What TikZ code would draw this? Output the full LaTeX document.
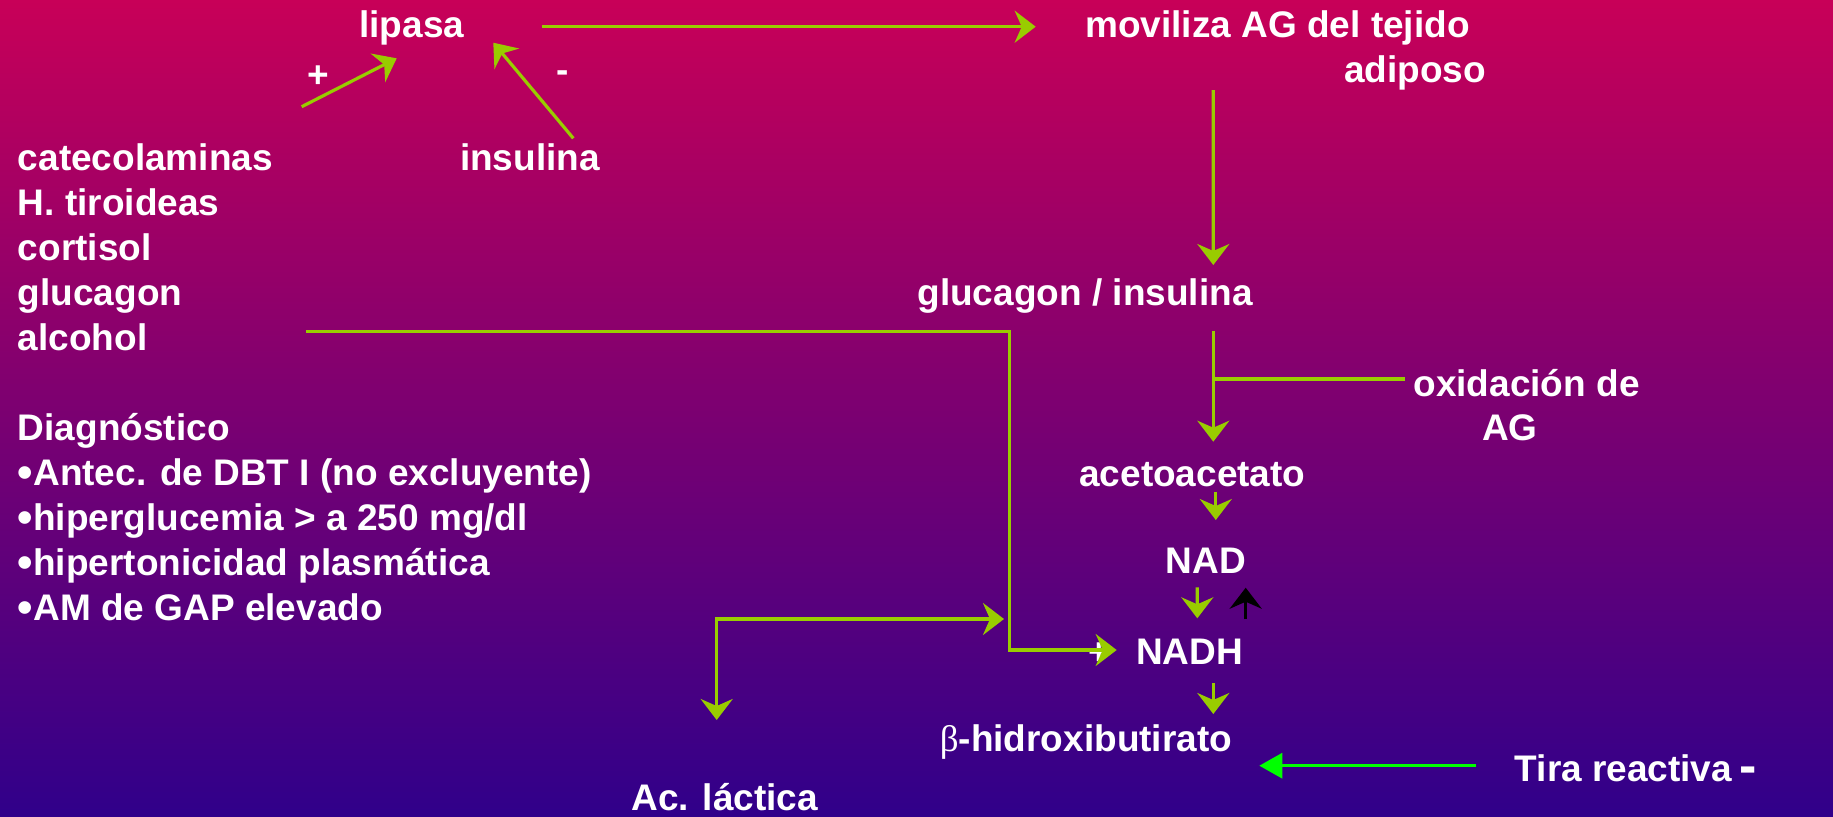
\documentclass[tikz,border=0pt]{standalone}
\usepackage{fontspec}
\setmainfont{Liberation Sans}
\newfontfamily\greekfont{Liberation Serif}
\usetikzlibrary{arrows.meta}
\definecolor{arrowgreen}{RGB}{153,204,0}
\definecolor{stripgreen}{RGB}{0,255,0}
\definecolor{bgtop}{RGB}{200,0,88}
\definecolor{bgmid}{RGB}{135,0,128}
\definecolor{bgbottom}{RGB}{48,0,138}
\newcommand{\bul}{{\fontsize{22pt}{22.5pt}\selectfont\raisebox{-1pt}{•}}}

\begin{document}
\begin{tikzpicture}[x=0.5pt, y=-0.5pt]
    \tikzstyle{txt}=[text=white, font=\fontsize{18.5pt}{22.5pt}\selectfont\bfseries, inner sep=0pt, anchor=base]
    \tikzstyle{connect}=[-{Stealth[length=10.5pt, width=16pt, inset=3.5pt]}, line width=1.6pt, draw=arrowgreen]
    \tikzstyle{both}=[{Stealth[length=10.5pt, width=16pt, inset=3.5pt]}-{Stealth[length=10.5pt, width=16pt, inset=3.5pt]}, line width=1.6pt, draw=arrowgreen]
    \tikzstyle{link}=[line width=1.6pt, draw=arrowgreen]
    \tikzstyle{strip}=[-{Triangle[length=11.5pt, width=12.5pt]}, line width=1.6pt, draw=stripgreen]

      \shade[top color=bgtop, middle color=bgmid, bottom color=bgbottom] (0,0) rectangle (1833,816);
      \useasboundingbox (0,0) rectangle (1833,816);

      \node[txt] (lipasa) at (411.7,37) {lipasa};
      \node[txt] (plus) at (318,87) {+};
      \node[txt] (minus) at (562.5,82.7) {-};
      \node[txt] (insulina) at (530,170) {insulina};
      \node[txt] (moviliza) at (1277.5,37) {moviliza AG del tejido};
      \node[txt] (adiposo) at (1415,82) {adiposo};
      \node[txt, anchor=base west, align=left] (horm) at (17.5,350) {catecolaminas\\H. tiroideas\\cortisol\\glucagon\\alcohol};
      \node[txt, anchor=base west, align=left] (diag) at (17.5,620) {Diagnóstico\\\bul Antec. de DBT I (no excluyente)\\\bul hiperglucemia > a 250 mg/dl\\\bul hipertonicidad plasmática\\\bul AM de GAP elevado};
      \node[txt] (gluins) at (1085,305) {glucagon / insulina};
      \node[txt] (oxid) at (1526.5,396.7) {oxidación de};
      \node[txt] (oxidag) at (1510,440) {AG};
      \node[txt] (acetoac) at (1192.4,486) {acetoacetato};
      \node[txt] (nad) at (1206,573.3) {NAD};
      \node[txt] (nadplus) at (1099,664) {+};
      \node[txt] (nadh) at (1189.5,664) {NADH};
      \node[txt] (beta) at (1086,751.7) {{\greekfont\mdseries β}-hidroxibutirato};
      \node[txt] (aclac) at (724.8,810) {Ac. láctica};
      \node[txt] (tira) at (1623.5,781.7) {Tira reactiva};
      \node[txt, font=\fontsize{26pt}{30pt}\selectfont\bfseries] (tiraminus) at (1748.3,783) {-};

      \coordinate (hormin) at (301.7,106.7);
      \path
        (hormin) edge [connect] ([shift={(-15,21.3)}]lipasa.base)
        ([shift={(43.3,-31.7)}]insulina.base) edge [connect] ([shift={(81.6,5.7)}]lipasa.base)
        ([shift={(130,-10.3)}]lipasa.base) edge [connect] ([shift={(-241.8,-10.3)}]moviliza.base)
        ([shift={(-201.7,8)}]adiposo.base) edge [connect] ([shift={(128.3,-40)}]gluins.base)
        ([shift={(128.3,25.7)}]gluins.base) edge [connect] ([shift={(20.9,-44.3)}]acetoac.base)
        ([shift={(-121.5,-17.7)}]oxid.base) edge [link] ([shift={(20.9,-107)}]acetoac.base)
        ([shift={(23.4,6)}]acetoac.base) edge [connect] ([shift={(9.8,-53.3)}]nad.base)
        ([shift={(-8.7,14)}]nad.base) edge [connect] ([shift={(7.8,-45.7)}]nadh.base)
        ([shift={(56.2,-45)}]nadh.base) edge [connect, draw=black] ([shift={(39.7,14.4)}]nad.base)
        ([shift={(23.8,19.3)}]nadh.base) edge [connect] ([shift={(127.3,-37.7)}]beta.base)
        ([shift={(-147.5,-16)}]tira.base) edge [strip] ([shift={(173.3,14)}]beta.base);
      \draw[connect] ([shift={(32.6,-19.3)}]horm.south east) -- ++(703.4,0) |- ([shift={(-72.8,-14)}]nadh.base);
      \draw[both] ([shift={(-8.1,-90)}]aclac.base) |- ++(287.3,-101);
    \end{tikzpicture}
\end{document}
